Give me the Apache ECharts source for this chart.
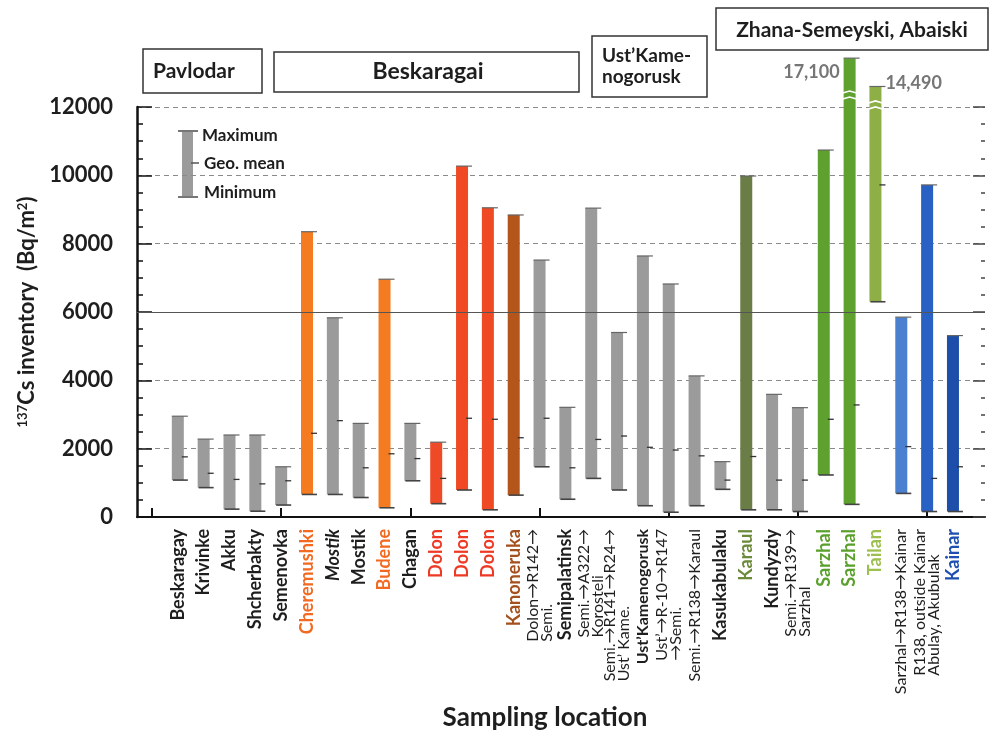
<!DOCTYPE html>
<html>
<head>
<meta charset="utf-8">
<script src="https://cdn.jsdelivr.net/npm/echarts@6/dist/echarts.min.js"></script>
<style>
  html, body { margin: 0; padding: 0; background: #fff; }
  #chart { width: 993px; height: 737px; }
</style>
</head>
<body>
<div id="chart"></div>
<script>
// sampling locations, left to right
const locations = [
  "Beskaragay", "Krivinke", "Akku", "Shcherbakty", "Semenovka",
  "Cheremushki", "Mostik", "Mostik", "Budene", "Chagan",
  "Dolon", "Dolon", "Dolon", "Kanoneruka", "Dolon→R142→\nSemi.",
  "Semipalatinsk", "Semi.→A322→\nKorosteli", "Semi.→R141→R24→\nUst’ Kame.", "Ust’Kamenogorusk", "Ust’→R-10→R147\n→Semi.",
  "Semi.→R138→Karaul", "Kasukabulaku", "Karaul", "Kundyzdy", "Semi.→R139→\nSarzhal",
  "Sarzhal", "Sarzhal", "Tailan", "Sarzhal→R138→Kainar", "R138, outside Kainar\nAbulay, Akubulak",
  "Kainar"
];
// label style key per location (colour / weight)
const labelKinds = [
  "b", "b", "b", "b", "b",
  "o", "i", "b", "o", "b",
  "r", "r", "r", "br", "s",
  "b", "s", "s", "m", "s",
  "s", "b", "ol", "b", "s",
  "g", "g", "tl", "s", "s",
  "bl"
];

// 137Cs inventory, Bq/m2
const maxValues = [2950, 2280, 2400, 2400, 1470, 8350, 5830, 2740, 6960, 2740, 2190, 10270, 9050, 8840, 7520, 3210, 9040, 5400, 7640, 6820, 4130, 1620, 9980, 3590, 3200, 10740, 17100, 14490, 5850, 9720, 5310];
const geoMeans  = [1760, 1280, 1100, 970, 1060, 2450, 2820, 1440, 1850, 1710, 1130, 2890, 2860, 2320, 2890, 1440, 2270, 2370, 2040, 1960, 1790, 1080, 1770, 1080, 1080, 2860, 3280, 9720, 2060, 1130, 1470];
const minValues = [1080, 860, 230, 170, 350, 660, 660, 570, 270, 1060, 390, 790, 210, 640, 1470, 520, 1130, 790, 330, 140, 330, 810, 210, 210, 160, 1230, 370, 6300, 690, 160, 160];

// bars drawn with an axis break: [location index, drawn top, break position]
const brokenBars = [[26, 13430, 12350], [27, 12600, 12060]];

const barColors = [
  "#9b9b9b", "#9b9b9b", "#9b9b9b", "#9b9b9b", "#9b9b9b",
  "#f47b20", "#9b9b9b", "#9b9b9b", "#f47b20", "#9b9b9b",
  "#ee4a27", "#f04a24", "#f04a24", "#b4561b", "#9b9b9b",
  "#9b9b9b", "#9b9b9b", "#9b9b9b", "#9b9b9b", "#9b9b9b",
  "#9b9b9b", "#9b9b9b", "#6a7d46", "#9b9b9b", "#9b9b9b",
  "#5ea12f", "#5ea12f", "#8eae46", "#4b7fd0", "#2860c4",
  "#1d4faa"
];

const regions = [
  { name: "Pavlodar", box: [143, 49, 119, 44], text: [153, 71], align: "left", size: 21 },
  { name: "Beskaragai", box: [274, 52, 305, 40], text: [428, 72], align: "center", size: 23 },
  { name: "Ust’Kame-\nnogorusk", box: [592, 36, 115, 61], text: [602, 66], align: "left", size: 19 },
  { name: "Zhana-Semeyski, Abaiski", box: [716, 8, 272, 42], text: [852, 30], align: "center", size: 21 }
];

// location slots start at 10 so the x range never contains zero
// (keeps the y axis line on the grid edge instead of at x = 0)
const SLOT0 = 10;
const FONT = "Lato";
const chart = echarts.init(document.getElementById("chart"));

const brokenMap = {};
brokenBars.forEach(([i, top, brk]) => { brokenMap[i] = { top, brk }; });

const seriesData = locations.map((n, i) => [
  SLOT0 + i + 1, minValues[i], geoMeans[i], maxValues[i],
  brokenMap[i] ? brokenMap[i].top : maxValues[i]
]);

function renderRange(params, api) {
  const i = params.dataIndex;
  const x = api.value(0);
  const top = api.coord([x, api.value(4)]);
  const bot = api.coord([x, api.value(1)]);
  const mid = api.coord([x, api.value(2)]);
  const w = 12;
  const x0 = top[0] - w / 2;
  const children = [
    { type: "rect", shape: { x: x0, y: top[1], width: w, height: bot[1] - top[1] }, style: { fill: barColors[i] } },
    { type: "line", shape: { x1: x0, y1: top[1], x2: x0 + w + 4, y2: top[1] }, style: { stroke: "#666", lineWidth: 1.2 } },
    { type: "line", shape: { x1: x0 + 1, y1: bot[1], x2: x0 + w + 4, y2: bot[1] }, style: { stroke: "#444", lineWidth: 1.6 } },
    { type: "line", shape: { x1: x0 + w - 2, y1: mid[1], x2: x0 + w + 4, y2: mid[1] }, style: { stroke: "#333", lineWidth: 1.3 } }
  ];
  const br = brokenMap[i];
  if (br) {
    const b = api.coord([x, br.brk]);
    [-3, 3].forEach(dy => {
      children.push({
        type: "polyline",
        shape: { points: [[x0 - 1, b[1] + dy + 1], [x0 + w / 2, b[1] + dy - 1], [x0 + w + 1, b[1] + dy + 1]] },
        style: { stroke: "#fff", lineWidth: 1.6, fill: null }
      });
    });
    const left = i === 26;
    children.push({
      type: "text",
      style: {
        text: maxValues[i].toLocaleString("en-US"),
        x: left ? x0 - 4 : x0 + w + 4,
        y: left ? top[1] + 14 : top[1] - 3,
        align: left ? "right" : "left",
        verticalAlign: "middle",
        fill: "#767676",
        font: "bold 18px " + FONT
      }
    });
  }
  return { type: "group", children };
}

const labelBase = { fontFamily: FONT, fontWeight: "bold", fontSize: 18, align: "left", lineHeight: 19 };

const option = {
  backgroundColor: "#fff",
  animation: false,
  grid: { left: 137, right: 8, top: 107, bottom: 220, containLabel: false, outerBoundsMode: "none" },
  xAxis: {
    type: "value",
    min: SLOT0 - 0.58,
    max: SLOT0 + 32.24,
    splitLine: { show: false },
    axisLine: { show: true, lineStyle: { color: "#111", width: 2 } },
    axisTick: { show: true, inside: true, length: 9, customValues: [0, 5, 10, 15, 20, 25, 30].map(v => SLOT0 + v), lineStyle: { color: "#111", width: 2 } },
    axisLabel: {
      show: true,
      customValues: locations.map((n, i) => SLOT0 + i + 1),
      rotate: 90,
      margin: 12,
      formatter: v => {
        const i = Math.round(v) - SLOT0 - 1;
        const k = labelKinds[i];
        return locations[i].split("\n").map(line => "{" + k + "|" + line + "}").join("\n");
      },
      rich: {
        b: { ...labelBase, color: "#1e1e1e" },
        m: { ...labelBase, fontSize: 16, lineHeight: 17, color: "#1e1e1e" },
        i: { ...labelBase, fontStyle: "italic", color: "#1e1e1e" },
        s: { fontFamily: FONT, fontSize: 16, color: "#1e1e1e", align: "left", lineHeight: 14 },
        o: { ...labelBase, color: "#f26a21" },
        r: { ...labelBase, color: "#ee3a24" },
        br: { ...labelBase, color: "#a4501c" },
        ol: { ...labelBase, color: "#6b8a3a" },
        g: { ...labelBase, color: "#5aa02c" },
        tl: { ...labelBase, color: "#9dbf50" },
        bl: { ...labelBase, color: "#1f4fb0" }
      }
    }
  },
  yAxis: [
    {
      type: "value",
      min: 0,
      max: 12000,
      interval: 2000,
      name: "{sup|137}{t|Cs inventory  (Bq/m}{sup|2}{t|)}",
      nameLocation: "middle",
      nameRotate: 90,
      nameGap: 77,
      nameTextStyle: {
        rich: {
          t: { fontFamily: FONT, fontWeight: "bold", fontSize: 22, color: "#1e1e1e" },
          sup: { fontFamily: FONT, fontWeight: "bold", fontSize: 13, color: "#1e1e1e", verticalAlign: "top" }
        }
      },
      axisLine: { show: true, lineStyle: { color: "#111", width: 2.5 } },
      axisTick: { show: true, inside: true, length: 15, lineStyle: { color: "#111", width: 1.5 } },
      minorTick: { show: true, splitNumber: 4, length: 6, lineStyle: { color: "#111", width: 1.5 } },
      axisLabel: { margin: 24, fontFamily: FONT, fontWeight: "bold", fontSize: 22, color: "#1e1e1e", formatter: v => String(v) },
      splitLine: { show: true, lineStyle: { color: "#8a8a8a", type: [5, 4], width: 1.2 } }
    },
    {
      type: "value",
      position: "right",
      min: 0,
      max: 12000,
      interval: 2000,
      axisLine: { show: false },
      axisTick: { show: true, inside: true, length: 12, lineStyle: { color: "#444", width: 1.5 } },
      minorTick: { show: true, splitNumber: 4, length: 4, lineStyle: { color: "#444", width: 1.5 } },
      axisLabel: { show: false },
      splitLine: { show: false }
    }
  ],
  series: [
    {
      type: "custom",
      renderItem: renderRange,
      encode: { x: 0, y: [1, 3] },
      data: seriesData,
      markLine: {
        silent: true,
        symbol: "none",
        label: { show: false },
        lineStyle: { type: "solid", color: "#555", width: 1 },
        data: [{ yAxis: 6000 }]
      }
    }
  ],
  graphic: [
    // region boxes
    ...regions.flatMap(r => [
      { type: "rect", shape: { x: r.box[0], y: r.box[1], width: r.box[2], height: r.box[3] },
        style: { fill: "#fff", stroke: "#333", lineWidth: 1.5 } },
      { type: "text", x: r.text[0], y: r.text[1],
        style: { text: r.name, font: "bold " + r.size + "px " + FONT, fill: "#1e1e1e",
                 align: r.align, verticalAlign: "middle", lineHeight: r.size + 2 } }
    ]),
    // legend glyph
    { type: "rect", shape: { x: 182, y: 131, width: 11, height: 66 }, style: { fill: "#9b9b9b" } },
    { type: "line", shape: { x1: 178, y1: 131, x2: 198, y2: 131 }, style: { stroke: "#777", lineWidth: 2 } },
    { type: "line", shape: { x1: 178, y1: 197, x2: 198, y2: 197 }, style: { stroke: "#777", lineWidth: 2 } },
    { type: "line", shape: { x1: 191, y1: 163, x2: 199, y2: 163 }, style: { stroke: "#555", lineWidth: 1.5 } },
    { type: "text", x: 202, y: 136, style: { text: "Maximum", font: "bold 17px " + FONT, fill: "#1e1e1e", verticalAlign: "middle" } },
    { type: "text", x: 204, y: 164, style: { text: "Geo. mean", font: "bold 17px " + FONT, fill: "#1e1e1e", verticalAlign: "middle" } },
    { type: "text", x: 204, y: 193, style: { text: "Minimum", font: "bold 17px " + FONT, fill: "#1e1e1e", verticalAlign: "middle" } },
    // x axis title
    { type: "text", x: 545, y: 718, style: { text: "Sampling location", font: "bold 26px " + FONT, fill: "#1e1e1e", align: "center", verticalAlign: "middle" } }
  ]
};

chart.setOption(option);
</script>
</body>
</html>
